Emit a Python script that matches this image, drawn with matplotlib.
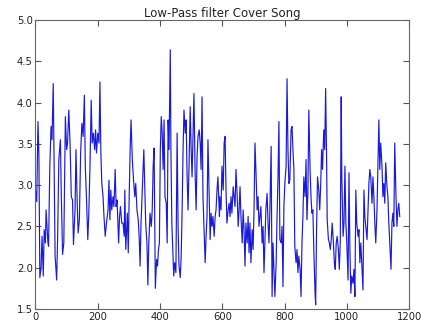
import matplotlib
matplotlib.use("Agg")
import matplotlib.pyplot as plt

# values (sample index, magnitude)
x_vals = [0, 4, 8, 11, 14, 18, 21, 25, 28, 32, 34, 37, 40, 42, 46, 50, 53, 57, 59, 63,
          68, 71, 75, 80, 83, 87, 91, 96, 100, 103, 107, 111, 115, 119, 122, 127, 130, 134, 137, 141,
          145, 149, 153, 157, 160, 164, 168, 171, 175, 179, 182, 186, 190, 193, 196, 200, 204, 207, 210, 213,
          217, 220, 224, 228, 233, 236, 239, 242, 245, 249, 252, 256, 259, 262, 267, 270, 273, 277, 281, 285,
          287, 290, 295, 298, 301, 304, 307, 311, 315, 319, 322, 326, 330, 333, 336, 339, 344, 348, 351, 354,
          358, 361, 364, 368, 372, 375, 378, 381, 383, 385, 389, 392, 395, 398, 401, 404, 407, 410, 413, 416,
          420, 423, 426, 429, 433, 435, 438, 441, 444, 447, 451, 455, 458, 461, 465, 468, 471, 474, 477, 481,
          484, 487, 490, 493, 497, 500, 503, 506, 509, 513, 516, 519, 522, 526, 529, 532, 535, 538, 542, 545,
          548, 551, 554, 558, 561, 564, 567, 570, 574, 577, 580, 583, 586, 591, 592, 596, 599, 603, 606, 609,
          612, 615, 619, 622, 625, 628, 631, 635, 638, 641, 644, 648, 651, 654, 657, 660, 664, 667, 670, 673,
          676, 680, 683, 686, 689, 692, 696, 699, 702, 705, 708, 712, 715, 718, 721, 724, 728, 731, 734, 737,
          740, 744, 747, 750, 753, 757, 760, 763, 766, 769, 773, 776, 779, 782, 785, 789, 792, 795, 798, 801,
          805, 808, 811, 814, 817, 821, 824, 827, 830, 833, 837, 840, 843, 846, 850, 853, 856, 859, 862, 866,
          869, 872, 875, 878, 882, 885, 888, 891, 894, 898, 900, 903, 906, 910, 913, 916, 919, 922, 926, 929,
          932, 935, 937, 941, 944, 947, 950, 953, 957, 960, 963, 966, 969, 973, 976, 979, 982, 984, 988, 991,
          994, 997, 1000, 1004, 1007, 1010, 1013, 1016, 1020, 1023, 1026, 1029, 1032, 1036, 1039, 1042, 1045, 1049, 1052, 1055,
          1058, 1061, 1065, 1068, 1071, 1074, 1077, 1081, 1084, 1087, 1090, 1093, 1097, 1100, 1103, 1106, 1109, 1113, 1116, 1119,
          1122, 1125, 1129, 1132, 1135, 1138, 1142, 1145, 1148, 1151, 1154, 1158, 1161, 1164, 1167, 1170]
y_vals = [2.94, 2.80, 3.77, 3.35, 1.88, 2.00, 2.38, 1.90, 2.46, 2.30, 2.70, 2.50, 2.30, 2.26, 3.23, 3.71, 3.55, 4.23, 3.51, 2.14,
          1.85, 2.34, 3.31, 3.55, 2.86, 2.16, 2.30, 3.83, 3.43, 3.51, 3.91, 3.51, 2.86, 2.82, 2.28, 2.70, 3.43, 2.78, 2.42, 2.58,
          3.39, 3.75, 3.59, 4.09, 3.23, 2.82, 2.34, 2.62, 3.23, 4.03, 3.51, 3.63, 3.43, 3.67, 3.39, 3.63, 3.51, 4.25, 3.39, 3.02,
          2.86, 2.62, 2.38, 2.54, 2.70, 3.06, 2.58, 2.94, 2.70, 2.86, 2.74, 3.19, 2.74, 2.82, 2.30, 2.62, 2.74, 2.54, 2.54, 2.38,
          2.94, 2.22, 2.66, 2.18, 2.86, 3.43, 3.79, 3.31, 3.06, 2.86, 3.02, 2.70, 2.58, 2.38, 2.02, 2.54, 3.02, 3.43, 2.98, 2.54,
          2.30, 1.79, 2.30, 2.66, 2.50, 2.70, 3.23, 3.45, 2.54, 1.75, 2.10, 2.02, 2.22, 2.30, 3.43, 3.83, 3.63, 3.19, 3.79, 2.86,
          2.78, 2.30, 3.79, 3.43, 4.64, 3.43, 2.54, 2.22, 1.90, 2.06, 1.94, 3.63, 2.50, 2.02, 1.88, 2.14, 2.70, 3.43, 3.91, 3.63,
          3.79, 3.10, 2.70, 3.19, 3.95, 3.43, 3.10, 3.63, 4.11, 3.10, 2.70, 3.35, 3.59, 3.67, 3.51, 3.19, 4.07, 2.86, 2.38, 2.06,
          2.38, 2.62, 3.55, 2.86, 2.34, 2.66, 2.50, 2.62, 2.38, 2.62, 2.70, 2.94, 3.10, 2.62, 2.86, 2.70, 3.23, 2.94, 3.51, 3.59,
          2.94, 2.54, 2.70, 2.78, 2.62, 2.86, 2.66, 2.98, 2.86, 2.74, 3.19, 2.86, 2.50, 2.70, 2.98, 2.62, 2.30, 2.70, 2.46, 2.02,
          2.54, 2.30, 2.62, 2.18, 2.54, 2.06, 2.46, 2.22, 2.70, 3.51, 3.19, 2.70, 2.86, 2.50, 2.62, 2.74, 2.30, 2.50, 1.94, 2.30,
          2.70, 2.90, 2.54, 2.30, 2.70, 3.47, 1.65, 2.30, 1.98, 1.65, 2.06, 2.62, 3.10, 3.77, 2.34, 2.30, 2.50, 1.77, 2.74, 3.02,
          3.23, 4.29, 3.43, 3.02, 3.06, 3.67, 3.71, 3.43, 3.19, 2.26, 2.06, 2.22, 1.94, 2.14, 1.98, 1.65, 2.30, 2.62, 3.10, 2.86,
          3.31, 2.58, 2.90, 3.91, 3.19, 2.86, 2.66, 2.70, 2.22, 1.69, 1.55, 2.50, 3.10, 2.94, 2.70, 2.98, 3.43, 3.19, 3.67, 3.43,
          4.17, 3.35, 2.58, 2.34, 2.30, 2.22, 2.34, 2.54, 2.30, 2.06, 1.98, 2.30, 2.38, 2.22, 1.98, 2.30, 4.07, 3.10, 2.38, 2.54,
          3.23, 2.54, 2.30, 1.85, 3.15, 2.22, 1.69, 1.90, 1.81, 1.98, 1.65, 2.94, 2.54, 2.38, 2.46, 2.06, 2.30, 1.98, 1.73, 2.94,
          2.62, 2.50, 2.34, 2.70, 3.02, 3.19, 3.10, 2.78, 3.10, 2.86, 2.54, 2.30, 2.70, 3.27, 3.79, 3.19, 3.51, 3.23, 2.86, 3.02,
          2.78, 3.27, 2.98, 2.86, 2.54, 2.30, 1.98, 2.54, 2.66, 2.50, 3.51, 2.86, 2.50, 2.70, 2.78, 2.62]

x_ticks = [0, 200, 400, 600, 800, 1000, 1200]
y_ticks = [1.5, 2.0, 2.5, 3.0, 3.5, 4.0, 4.5, 5.0]

fig = plt.figure(figsize=(4.25, 3.29), dpi=100)
ax = fig.add_axes([0.0835, 0.061, 0.879, 0.878])

ax.plot(x_vals, y_vals, color="#1a1adc", linewidth=0.85)

ax.set_xlim(0, 1200)
ax.set_ylim(1.5, 5.0)
ax.set_xticks(x_ticks)
ax.set_yticks(y_ticks)
ax.set_xticklabels([str(t) for t in x_ticks])
ax.set_yticklabels(["%.1f" % t for t in y_ticks])
ax.tick_params(direction="in", top=True, right=True, length=4, width=0.8,
               labelsize=7.2, color="#555555", labelcolor="#222222", pad=2)
for s in ax.spines.values():
    s.set_color("#666666")
    s.set_linewidth(0.8)

ax.set_title("Low-Pass filter Cover Song", fontsize=8.5, pad=2, color="#222222")

fig.savefig("out.png", dpi=100)
